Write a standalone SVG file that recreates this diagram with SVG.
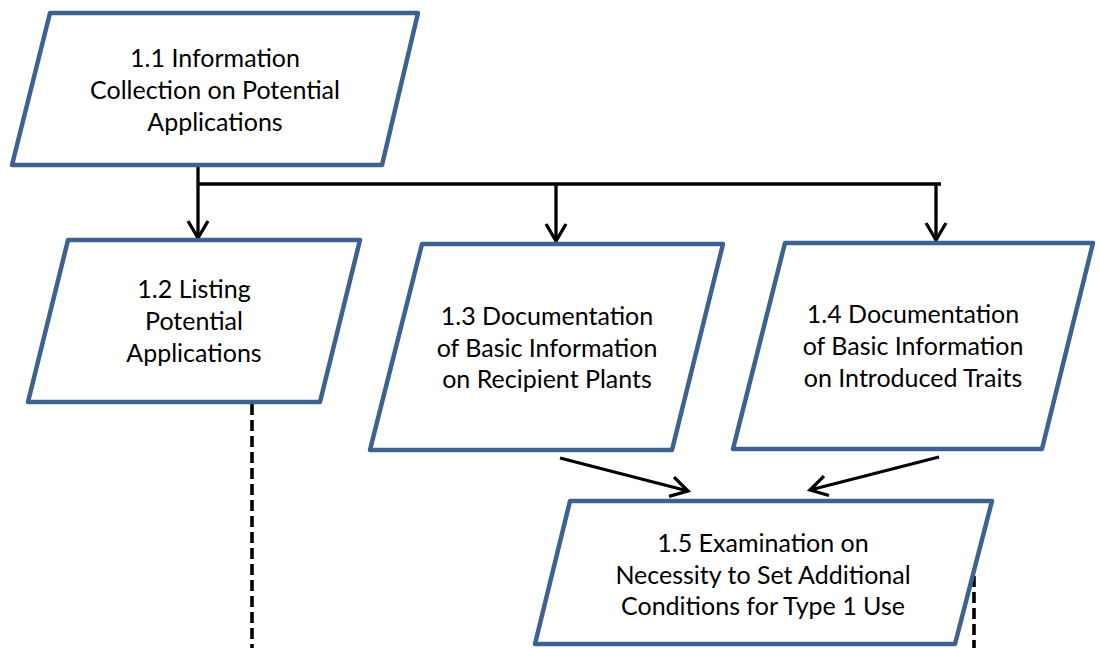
<svg xmlns="http://www.w3.org/2000/svg" width="1100" height="648" viewBox="0 0 1100 648">
  <style>
    .box { fill: #ffffff; stroke: #3d6290; stroke-width: 4.5; stroke-linejoin: round; }
    .lbl { font-family: Lato, "Open Sans", "Liberation Sans", sans-serif; font-size: 25px; fill: #000000; text-anchor: middle; }
    .wire { fill: none; stroke: #000000; stroke-width: 3.3; }
    .dash { fill: none; stroke: #000000; stroke-width: 3.6; stroke-dasharray: 11 5; }
  </style>
  <defs>
    <marker id="open-arrow" viewBox="0 0 24 24" refX="20" refY="12" markerWidth="24" markerHeight="24" markerUnits="userSpaceOnUse" orient="auto">
      <polyline points="3,2 20,12 3,22" fill="none" stroke="#000000" stroke-width="3.3"/>
    </marker>
  </defs>

  <!-- connectors -->
  <g id="connectors">
    <path class="dash" d="M252,404 V648"/>
    <path class="dash" d="M974,576 V648"/>
    <path class="wire" d="M198,166 V238" marker-end="url(#open-arrow)"/>
    <path class="wire" d="M198,184 H941"/>
    <path class="wire" d="M556,184 V241" marker-end="url(#open-arrow)"/>
    <path class="wire" d="M936,184 V240" marker-end="url(#open-arrow)"/>
    <path class="wire" d="M560,458 L688,491" marker-end="url(#open-arrow)"/>
    <path class="wire" d="M939,457 L810,490" marker-end="url(#open-arrow)"/>
  </g>

  <g id="n1_1">
    <polygon class="box" points="50,13 418,13 382,165 12,165"/>
    <text class="lbl" x="215" y="67">1.1 Information</text>
    <text class="lbl" x="215" y="99">Collection on Potential</text>
    <text class="lbl" x="215" y="131">Applications</text>
  </g>

  <g id="n1_2">
    <polygon class="box" points="68,240 360,240 320,402 28,402"/>
    <text class="lbl" x="194" y="298">1.2 Listing</text>
    <text class="lbl" x="194" y="330">Potential</text>
    <text class="lbl" x="194" y="362">Applications</text>
  </g>

  <g id="n1_3">
    <polygon class="box" points="422,244 723,244 672,450 370,450"/>
    <text class="lbl" x="547" y="325">1.3 Documentation</text>
    <text class="lbl" x="547" y="357">of Basic Information</text>
    <text class="lbl" x="547" y="388">on Recipient Plants</text>
  </g>

  <g id="n1_4">
    <polygon class="box" points="785,243 1093,243 1042,449 733,449"/>
    <text class="lbl" x="913" y="323">1.4 Documentation</text>
    <text class="lbl" x="913" y="355">of Basic Information</text>
    <text class="lbl" x="913" y="387">on Introduced Traits</text>
  </g>

  <g id="n1_5">
    <polygon class="box" points="570,501 992,501 955,644 535,644"/>
    <text class="lbl" x="763" y="552">1.5 Examination on</text>
    <text class="lbl" x="763" y="584">Necessity to Set Additional</text>
    <text class="lbl" x="763" y="615">Conditions for Type 1 Use</text>
  </g>
</svg>
